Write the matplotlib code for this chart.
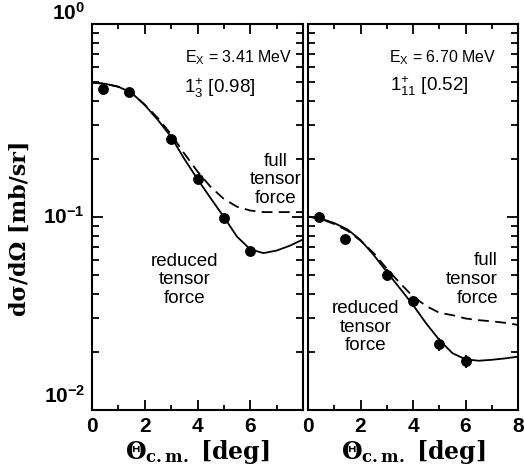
import numpy as np
import matplotlib
matplotlib.use('Agg')
import matplotlib.pyplot as plt
from matplotlib.transforms import blended_transform_factory, ScaledTranslation

plt.rcParams['font.family'] = ['Liberation Sans', 'DejaVu Sans']
plt.rcParams['mathtext.fontset'] = 'custom'
plt.rcParams['mathtext.rm'] = 'Liberation Sans'
plt.rcParams['mathtext.bf'] = 'Liberation Sans:bold'
plt.rcParams['mathtext.it'] = 'Liberation Sans:italic'

# measured cross sections
angle = [0.4, 1.4, 3.0, 4.0, 5.0, 6.0]
xs_341 = [0.46, 0.446, 0.253, 0.158, 0.099, 0.0665]
err_341 = [0.008, 0.008, 0.005, 0.003, 0.002, 0.0015]
xs_670 = [0.0995, 0.0766, 0.050, 0.0365, 0.0219, 0.0179]
err_670 = [0.005, 0.002, 0.0035, 0.0025, 0.0016, 0.0013]

# calculations
theta = [0, 0.5, 1, 1.5, 2, 2.5, 3, 3.5, 4, 4.5, 5, 5.5, 6, 6.5, 7, 7.5, 8]
red_341 = [0.497, 0.49, 0.473, 0.44, 0.38, 0.318, 0.26, 0.20, 0.157, 0.125,
           0.100, 0.079, 0.068, 0.065, 0.067, 0.071, 0.0765]
full_341 = [0.497, 0.49, 0.473, 0.44, 0.382, 0.325, 0.268, 0.213, 0.172, 0.143,
            0.124, 0.113, 0.108, 0.106, 0.106, 0.106, 0.106]
red_670 = [0.1005, 0.098, 0.093, 0.0863, 0.076, 0.0636, 0.052, 0.0427, 0.035,
           0.0281, 0.0231, 0.0197, 0.0183, 0.018, 0.0182, 0.0185, 0.0189]
full_670 = [0.1005, 0.0975, 0.092, 0.085, 0.0755, 0.065, 0.054, 0.0455, 0.0387,
            0.0346, 0.0319, 0.031, 0.0298, 0.0292, 0.0288, 0.0283, 0.0276]

ytick_vals = [1, 0.1, 0.01]
ytick_labels = [r'$\mathbf{10^{0}}$', r'$\mathbf{10^{-1}}$', r'$\mathbf{10^{-2}}$']

panels = [
    dict(xs=xs_341, err=err_341, red=red_341, full=full_341,
         ex=r'E$_{\rm X}$ = 3.41 MeV', state=r'$1^{+}_{3}$ [0.98]',
         xlabels=['0', '2', '4', '6', '']),
    dict(xs=xs_670, err=err_670, red=red_670, full=full_670,
         ex=r'E$_{\rm X}$ = 6.70 MeV', state=r'$1^{+}_{11}$ [0.52]',
         xlabels=['0', '2', '4', '6', '8']),
]

fig = plt.figure(figsize=(5.24, 4.65), dpi=100)
ax1 = fig.add_axes([0.1756, 0.1183, 0.4027, 0.8301])
ax2 = fig.add_axes([0.5878, 0.1183, 0.4008, 0.8301])

for ax, p in zip([ax1, ax2], panels):
    ax.plot(theta, p['red'], color='k', lw=1.3)
    ax.plot(theta, p['full'], color='k', lw=1.3, ls='--', dashes=(6, 3.5))
    ax.errorbar(angle, p['xs'], yerr=p['err'], fmt='o', color='k', ms=6.8,
                elinewidth=1.3, capsize=0)
    ax.set_yscale('log')
    ax.set_ylim(0.01, 1)
    ax.set_xlim(0, 8)
    ax.set_xticks([0, 2, 4, 6, 8], labels=p['xlabels'], fontsize=15,
                  fontweight='bold')
    ax.set_xticks([1, 3, 5, 7], minor=True)
    ax.tick_params(which='both', direction='in', top=True, right=True,
                   width=1.3, labelleft=False)
    ax.tick_params(axis='x', which='major', length=7, pad=5)
    ax.tick_params(axis='x', which='minor', length=3.8)
    ax.tick_params(axis='y', which='major', length=8)
    ax.tick_params(axis='y', which='minor', length=5)
    for s in ax.spines.values():
        s.set_linewidth(1.5)
    ax.text(0.5, -0.11, r'$\mathbf{\Theta}_{\mathbf{c.m.}}$ [deg]',
            transform=ax.transAxes, ha='center', va='center',
            family='DejaVu Serif', weight='bold', fontsize=17,
            math_fontfamily='dejavuserif')

# energy / state labels
ax1.text(0.44, 0.912, panels[0]['ex'], transform=ax1.transAxes, fontsize=11.5,
         va='center')
ax1.text(0.435, 0.834, panels[0]['state'], transform=ax1.transAxes,
         fontsize=13.5, va='center')
ax2.text(0.386, 0.912, panels[1]['ex'], transform=ax2.transAxes, fontsize=11.5,
         va='center')
ax2.text(0.39, 0.84, panels[1]['state'], transform=ax2.transAxes,
         fontsize=13.5, va='center')

# curve labels
ax1.text(0.87, 0.596, 'full\ntensor\nforce', transform=ax1.transAxes,
         fontsize=13.5, ha='center', va='center', multialignment='center',
         linespacing=1.12)
ax1.text(0.438, 0.337, 'reduced\ntensor\nforce', transform=ax1.transAxes,
         fontsize=13.5, ha='center', va='center', multialignment='center',
         linespacing=1.12)
ax2.text(0.905, 0.338, 'full\ntensor\nforce', transform=ax2.transAxes,
         fontsize=13.5, ha='right', va='center', multialignment='right',
         linespacing=1.12)
ax2.text(0.273, 0.215, 'reduced\ntensor\nforce', transform=ax2.transAxes,
         fontsize=13.5, ha='center', va='center', multialignment='center',
         linespacing=1.12)

# y tick labels, drawn by hand so top and bottom can sit inside
trans = blended_transform_factory(ax1.transAxes, ax1.transData)
shifts = [8, 0, 10]
for v, lab, dy in zip(ytick_vals, ytick_labels, shifts):
    off = ScaledTranslation(0, dy / 72, fig.dpi_scale_trans)
    ax1.text(-0.033, v, lab, transform=trans + off, ha='right', va='center',
             fontsize=15)

fig.text(20 / 524, 0.51, 'dσ/dΩ [mb/sr]', rotation=90, family='DejaVu Serif',
         weight='bold', fontsize=16, ha='center', va='center')

fig.savefig('out.png', dpi=100)
